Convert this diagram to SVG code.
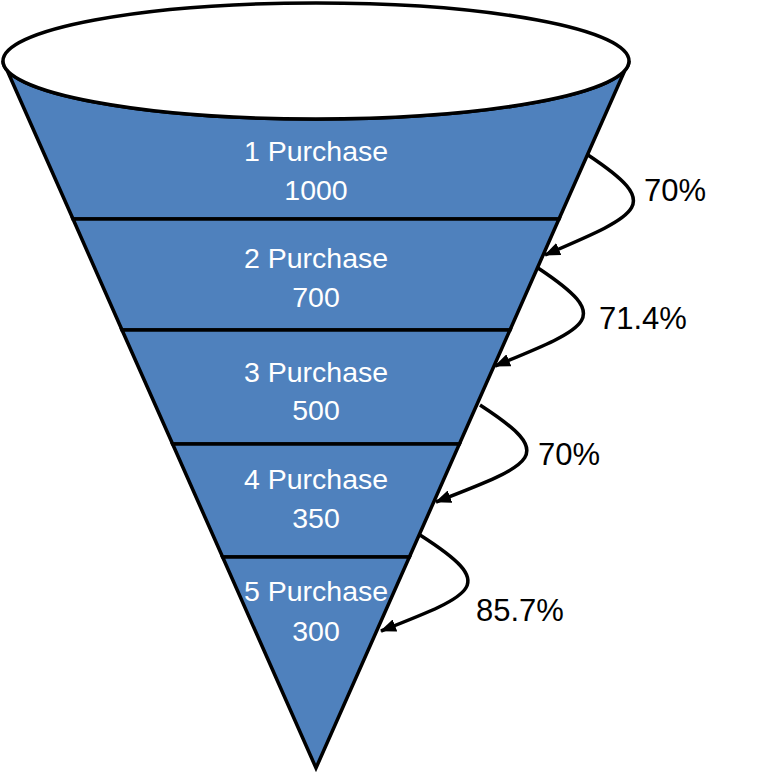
<svg xmlns="http://www.w3.org/2000/svg" width="782" height="774" viewBox="0 0 782 774">
<style>
.seg{fill:#4F81BD;stroke:#000;stroke-width:3.5;stroke-linejoin:miter}
.nt{font-family:"Liberation Sans",Arial,sans-serif;font-size:28.5px;fill:#fff;text-anchor:middle}
.pt{font-family:"Liberation Sans",Arial,sans-serif;font-size:31px;fill:#000}
.arr{fill:none;stroke:#000;stroke-width:3.5;marker-end:url(#ah)}
</style>
<defs>
<marker id="ah" viewBox="0 0 16 13" refX="15" refY="6.5" markerWidth="16" markerHeight="13" markerUnits="userSpaceOnUse" orient="auto">
<path d="M0 0 L16 6.5 L0 13 Z" fill="#000"/>
</marker>
</defs>
<rect width="782" height="774" fill="#fff"/>
<g id="stage1">
<path class="seg" d="M3 61 L73 219 L559 219 L629 61 A313 58 0 0 1 3 61 Z"/>
<text class="nt" x="316" y="161">1 Purchase</text>
<text class="nt" x="316" y="200">1000</text>
</g>
<g id="stage2">
<path class="seg" d="M73 219 L122 330 L510 330 L559 219 Z"/>
<text class="nt" x="316" y="268">2 Purchase</text>
<text class="nt" x="316" y="307">700</text>
</g>
<g id="stage3">
<path class="seg" d="M122 330 L172.6 444 L459.4 444 L510 330 Z"/>
<text class="nt" x="316" y="382">3 Purchase</text>
<text class="nt" x="316" y="420">500</text>
</g>
<g id="stage4">
<path class="seg" d="M172.6 444 L222.6 557 L409.4 557 L459.4 444 Z"/>
<text class="nt" x="316" y="489">4 Purchase</text>
<text class="nt" x="316" y="528">350</text>
</g>
<g id="stage5">
<path class="seg" d="M222.6 557 L316 768 L409.4 557 Z"/>
<text class="nt" x="316" y="601">5 Purchase</text>
<text class="nt" x="316" y="641">300</text>
</g>
<g id="funnel-top">
<ellipse cx="316" cy="61" rx="313" ry="58" fill="#fff" stroke="#000" stroke-width="3.5"/>
</g>
<g id="connectors">
<path class="arr" d="M588 155 C663 205, 643 213, 545 255"/>
<path class="arr" d="M538 268 C613 318, 593 326, 495 366"/>
<path class="arr" d="M480 405 C557 455, 537 463, 436 502"/>
<path class="arr" d="M420 535 C498 585, 478 593, 381 631"/>
<text class="pt" x="644" y="201">70%</text>
<text class="pt" x="599" y="329">71.4%</text>
<text class="pt" x="538" y="465">70%</text>
<text class="pt" x="476" y="621">85.7%</text>
</g>
</svg>
